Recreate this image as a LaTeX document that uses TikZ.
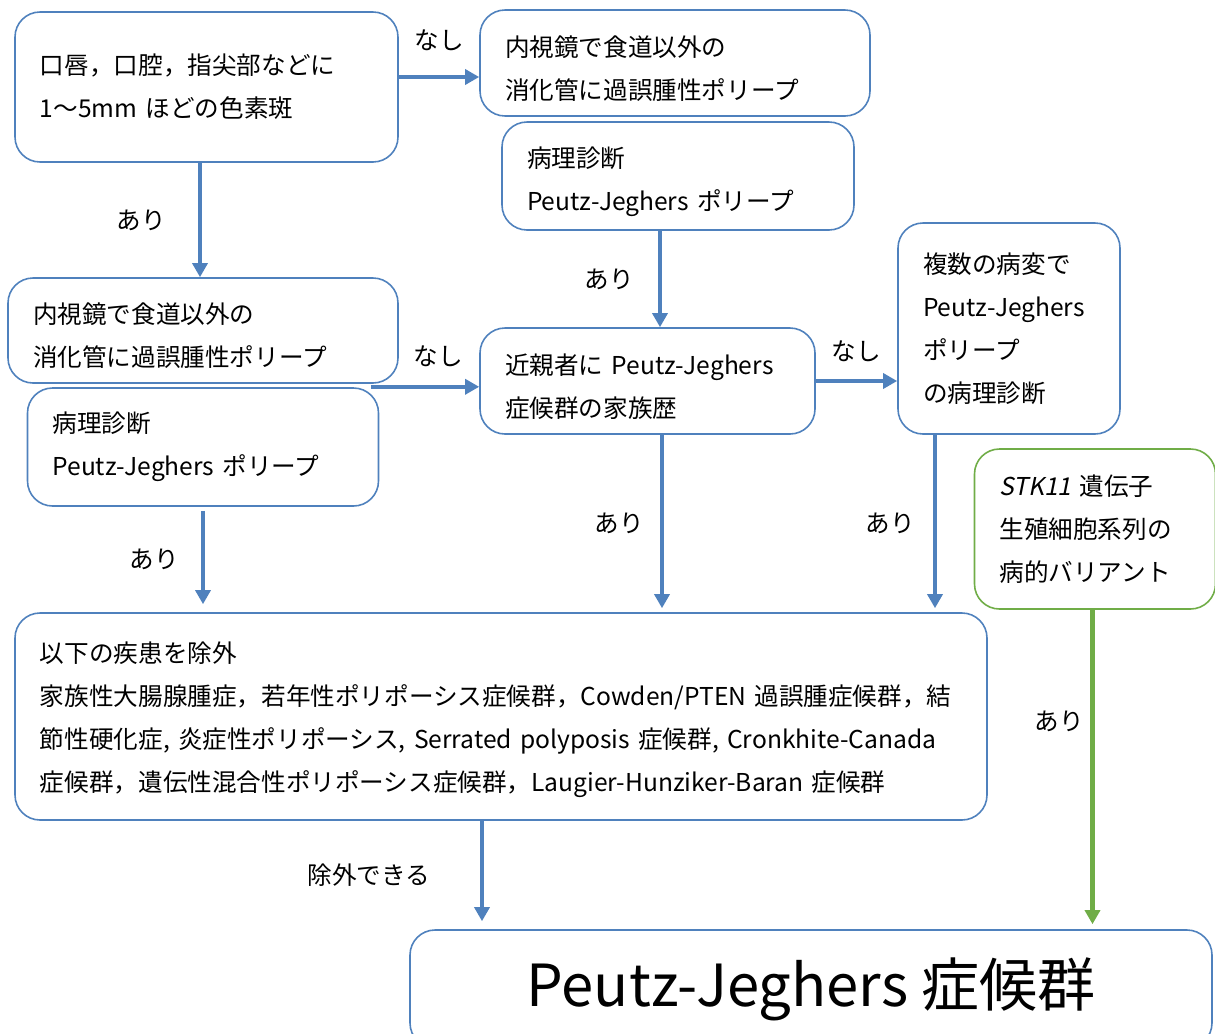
\documentclass[tikz,border=0pt]{standalone}
\usepackage{fontspec}
\setmainfont{Noto Sans CJK JP}[AutoFakeSlant=0.2]
\usepackage{tikz}
\usetikzlibrary{shapes,arrows.meta}
\definecolor{pjblue}{HTML}{4F81BD}
\definecolor{pjgreen}{HTML}{70AD47}
\newcommand{\lowr}{\rule{0pt}{1.29em}}
\tikzstyle{block} = [rectangle, draw=pjblue, line width=0.9pt, fill=white,
rounded corners=0.5cm, inner xsep=0.5cm, inner ysep=0pt, align=left]
\tikzstyle{blockg} = [block, draw=pjgreen]
\tikzstyle{line} = [draw=pjblue, line width=2.3pt,
-{Triangle[length=8pt,width=8.5pt]}]
\tikzstyle{lineg} = [line, draw=pjgreen]

\begin{document}
\begin{tikzpicture}[node distance = 2.4cm,
 every node/.style={font=\fontsize{14}{24.5}\selectfont}]
    \useasboundingbox (0,0) rectangle (24.3,-20.66);
    % Place nodes
    \node [block, text width=6.66cm, minimum height=3cm] at (4.13,-1.74) (lips)
    {口唇，口腔，指尖部などに\\1～5mm ほどの色素斑};
    \node [block, text width=6.8cm, minimum height=2.12cm, right of=lips,
    node distance=9.37cm, yshift=0.48cm] (endoa)
    {\lowr 内視鏡で食道以外の\\消化管に過誤腫性ポリープ};
    \node [block, text width=6.04cm, minimum height=2.16cm, below of=endoa,
    node distance=2.26cm, xshift=0.06cm] (patha)
    {\lowr 病理診断\\Peutz-Jeghers ポリープ};
    \node [block, text width=6.8cm, minimum height=2.1cm, below of=lips,
    node distance=4.87cm, xshift=-0.07cm] (endob)
    {\lowr 内視鏡で食道以外の\\消化管に過誤腫性ポリープ};
    \node [block, text width=6.02cm, minimum height=2.36cm, below of=endob,
    node distance=2.33cm] (pathb)
    {病理診断\\Peutz-Jeghers ポリープ};
    \node [block, text width=5.7cm, minimum height=2.12cm, below of=patha,
    node distance=4.1cm, xshift=-0.61cm] (family)
    {\lowr 近親者に Peutz-Jeghers\\症候群の家族歴};
    \node [block, text width=3.44cm, minimum height=4.22cm, right of=family,
    node distance=7.23cm, yshift=1.05cm] (multi)
    {複数の病変で\\Peutz-Jeghers\\ポリープ\\の病理診断};
    \node [blockg, text width=3.82cm, minimum height=3.2cm, below of=multi,
    node distance=4.01cm, xshift=1.72cm] (stk)
    {\textit{STK11} 遺伝子\\生殖細胞系列の\\病的バリアント};
    \node [block, text width=18.44cm, minimum height=4.14cm, below of=pathb,
    node distance=5.39cm, xshift=5.96cm] (exclude)
    {\rule{0pt}{1.1em}以下の疾患を除外\\
    家族性大腸腺腫症，若年性ポリポーシス症候群，Cowden/PTEN 過誤腫症候群，結\\
    節性硬化症, 炎症性ポリポーシス, Serrated polyposis 症候群, Cronkhite-Canada\\
    症候群，遺伝性混合性ポリポーシス症候群，Laugier-Hunziker-Baran 症候群};
    \node [block, minimum width=16.04cm, minimum height=2.36cm, align=center,
    below of=exclude, node distance=5.45cm, xshift=6.2cm,
    font=\fontsize{33}{40}\selectfont] (pjs) {Peutz-Jeghers 症候群};
    \coordinate (nashi) at ([xshift=-0.56cm,yshift=-0.06cm]endob.south east);

    % Draw edges
    \path [line] ([yshift=0.2cm]lips.east) -- node [above=0.37cm] {なし}
    ([yshift=0.2cm]lips.east -| endoa.west);
    \path [line] ([xshift=-0.13cm]lips.south) -- node [left=0.52cm] {あり}
    ([xshift=-0.13cm]lips.south |- endob.north);
    \path [line] ([xshift=-0.36cm]patha.south) -- node [left=0.36cm] {あり}
    ([xshift=-0.36cm]patha.south |- family.north);
    \path [line] (nashi) -- node [pos=0.62, above=0.25cm] {なし}
    (nashi -| family.west);
    \path [line] (family.east) -- node [above=0.23cm] {なし}
    (family.east -| multi.west);
    \path [line, shorten <=0.08cm, shorten >=0.16cm] (pathb.south)
    -- node [left=0.32cm] {あり} (pathb.south |- exclude.north);
    \path [line, shorten >=0.08cm] ([xshift=0.29cm]family.south)
    -- node [left=0.2cm] {あり} ([xshift=0.29cm]family.south |- exclude.north);
    \path [line, shorten >=0.08cm] ([xshift=-1.48cm]multi.south)
    -- node [left=0.24cm] {あり} ([xshift=-1.48cm]multi.south |- exclude.north);
    \path [lineg, shorten >=0.1cm] ([xshift=-0.05cm]stk.south)
    -- node [pos=0.35, left=0.02cm] {あり}
    ([xshift=-0.05cm]stk.south |- pjs.north);
    \path [line, shorten >=0.16cm] ([xshift=-0.38cm]exclude.south)
    -- node [left=0.88cm] {除外できる} ([xshift=-0.38cm]exclude.south |- pjs.north);
\end{tikzpicture}
\end{document}
